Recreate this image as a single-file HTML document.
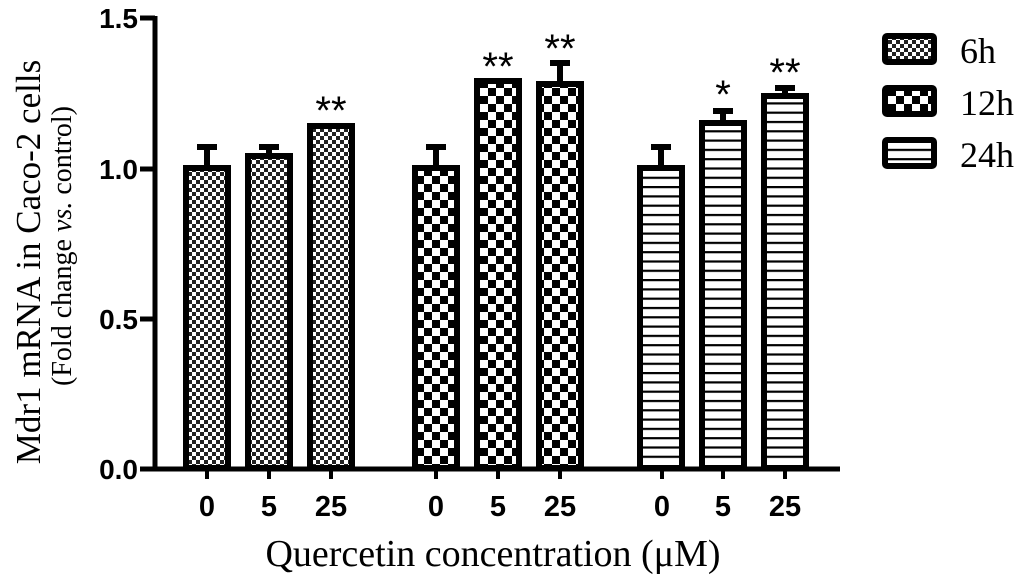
<!DOCTYPE html>
<html><head><style>body{margin:0;background:#fff}svg{display:block}</style></head><body>
<svg width="1024" height="580" xmlns="http://www.w3.org/2000/svg">
<defs>
<pattern id="p6" width="8" height="8" patternUnits="userSpaceOnUse"><rect width="8" height="8" fill="#fff"/><rect width="4" height="4" fill="#222"/><rect x="4" y="4" width="4" height="4" fill="#222"/></pattern>
<pattern id="p12" width="16" height="16" patternUnits="userSpaceOnUse"><rect width="16" height="16" fill="#fff"/><rect width="8" height="8" fill="#000"/><rect x="8" y="8" width="8" height="8" fill="#000"/></pattern>
<pattern id="p24" width="10" height="9.3" patternUnits="userSpaceOnUse"><rect width="10" height="9.3" fill="#fff"/><rect y="0" width="10" height="2.2" fill="#000"/></pattern>
</defs>
<g stroke="#000" stroke-width="5" fill="none">
<line x1="155" y1="16" x2="155" y2="471"/>
<line x1="142" y1="469" x2="840" y2="469"/>
<line x1="140" y1="18" x2="155" y2="18"/>
<line x1="140" y1="169" x2="155" y2="169"/>
<line x1="140" y1="319" x2="155" y2="319"/>
<line x1="140" y1="469" x2="155" y2="469"/>
</g>
<g font-family="Liberation Sans,sans-serif" font-weight="bold" font-size="28" text-anchor="end">
<text x="138" y="28">1.5</text><text x="138" y="179">1.0</text><text x="138" y="329">0.5</text><text x="138" y="479">0.0</text>
</g>
<g stroke="#000" stroke-width="6">
<g stroke-width="6">
<line x1="207" y1="168" x2="207" y2="147"/><line x1="197" y1="147" x2="217" y2="147"/>
<line x1="269" y1="156" x2="269" y2="147"/><line x1="259" y1="147" x2="279" y2="147"/>
<line x1="321" y1="126" x2="339" y2="126" stroke-width="5"/>
<line x1="436" y1="168" x2="436" y2="147"/><line x1="426" y1="147" x2="446" y2="147"/>
<line x1="489" y1="83" x2="507" y2="83" stroke-width="5"/>
<line x1="560" y1="84" x2="560" y2="63"/><line x1="550" y1="63" x2="570" y2="63"/>
<line x1="661" y1="168" x2="661" y2="147"/><line x1="651" y1="147" x2="671" y2="147"/>
<line x1="723" y1="122" x2="723" y2="111"/><line x1="713" y1="111" x2="733" y2="111"/>
<line x1="785" y1="97" x2="785" y2="88"/><line x1="775" y1="88" x2="795" y2="88"/>
</g>
<rect x="186" y="168" width="42" height="300" fill="url(#p6)"/>
<rect x="248" y="156" width="42" height="312" fill="url(#p6)"/>
<rect x="310" y="126" width="42" height="342" fill="url(#p6)"/>
<rect x="415" y="168" width="42" height="300" fill="url(#p12)"/>
<rect x="477" y="81" width="42" height="387" fill="url(#p12)"/>
<rect x="539" y="84" width="42" height="384" fill="url(#p12)"/>
<rect x="640" y="168" width="42" height="300" fill="url(#p24)"/>
<rect x="702" y="123" width="42" height="345" fill="url(#p24)"/>
<rect x="764" y="96" width="42" height="372" fill="url(#p24)"/>
</g>
<g stroke="#000" stroke-width="4">
<line x1="207" y1="469" x2="207" y2="479"/><line x1="269" y1="469" x2="269" y2="479"/><line x1="331" y1="469" x2="331" y2="479"/>
<line x1="436" y1="469" x2="436" y2="479"/><line x1="498" y1="469" x2="498" y2="479"/><line x1="560" y1="469" x2="560" y2="479"/>
<line x1="662" y1="469" x2="662" y2="479"/><line x1="723" y1="469" x2="723" y2="479"/><line x1="785" y1="469" x2="785" y2="479"/>
</g>
<g font-family="Liberation Sans,sans-serif" font-weight="bold" font-size="29" text-anchor="middle">
<text x="207" y="516">0</text><text x="269" y="516">5</text><text x="331" y="516">25</text>
<text x="436" y="516">0</text><text x="498" y="516">5</text><text x="560" y="516">25</text>
<text x="662" y="516">0</text><text x="723" y="516">5</text><text x="785" y="516">25</text>
</g>
<g font-family="Liberation Sans,sans-serif" font-size="40" text-anchor="middle">
<text x="331" y="124">**</text><text x="498" y="80">**</text><text x="560" y="62">**</text>
<text x="723" y="108">*</text><text x="785" y="86">**</text>
</g>
<g stroke="#000" stroke-width="6">
<rect x="885" y="36" width="49" height="26" rx="2" fill="url(#p6)"/>
<rect x="885" y="88" width="49" height="26" rx="2" fill="url(#p12)"/>
<rect x="885" y="140" width="49" height="26" rx="2" fill="url(#p24)"/>
</g>
<g font-family="Liberation Serif,serif" font-size="36">
<text x="960" y="63">6h</text><text x="960" y="115">12h</text><text x="960" y="167">24h</text>
</g>
<text x="493" y="566" font-family="Liberation Serif,serif" font-size="38" text-anchor="middle">Quercetin concentration (μM)</text>
<text transform="translate(40,262) rotate(-90)" font-family="Liberation Serif,serif" font-size="35" text-anchor="middle">Mdr1 mRNA in Caco-2 cells</text>
<text transform="translate(71,246) rotate(-90)" font-family="Liberation Serif,serif" font-size="28" text-anchor="middle">(Fold change <tspan font-style="italic">vs.</tspan> control)</text>
</svg>
</body></html>
